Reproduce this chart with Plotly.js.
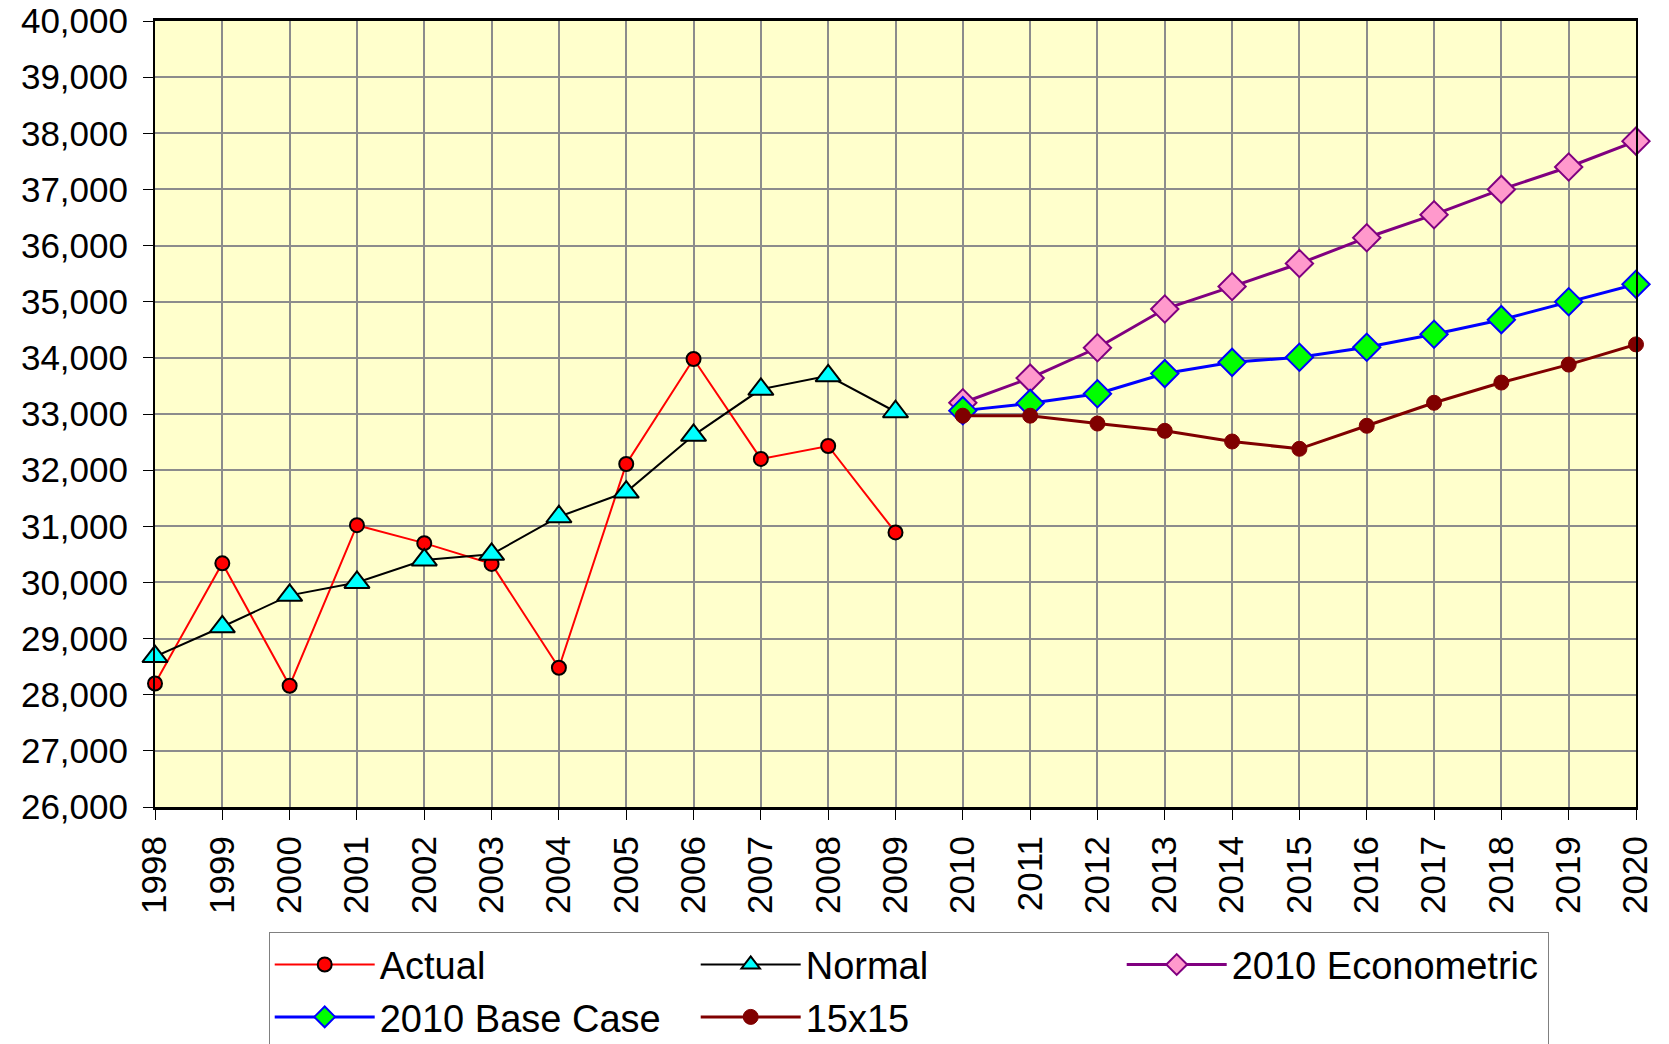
<!DOCTYPE html>
<html>
<head>
<meta charset="utf-8">
<script src="https://cdn.plot.ly/plotly-3.0.1.min.js"></script>
<style>
html,body{margin:0;padding:0;background:#fff;}
#chart{width:1669px;height:1044px;}
</style>
</head>
<body>
<div id="chart"></div>
<script>
const histYears = [1998,1999,2000,2001,2002,2003,2004,2005,2006,2007,2008,2009];
const fcstYears = [2010,2011,2012,2013,2014,2015,2016,2017,2018,2019,2020];

const actual = [28200,30340,28160,31020,30700,30330,28480,32110,33980,32200,32430,30890];
const normal = [28680,29210,29770,30000,30400,30500,31170,31610,32620,33440,33680,33040];
const econometric = [33200,33640,34180,34870,35270,35680,36140,36550,37000,37400,37860];
const baseCase = [33060,33190,33360,33720,33920,34010,34190,34420,34680,35000,35310];
const fifteen = [32970,32970,32830,32700,32510,32380,32790,33200,33560,33880,34240];

const seriesNames = ["Actual","Normal","2010 Econometric","2010 Base Case","15x15"];
const yTicks = [26000,27000,28000,29000,30000,31000,32000,33000,34000,35000,36000,37000,38000,39000,40000];

const traces = [
  {x: histYears, y: actual, name: seriesNames[0], type:'scatter', mode:'lines+markers',
   line:{color:'#FF0000', width:2},
   marker:{symbol:'circle', size:14, color:'#FF0000', line:{color:'#000000', width:2}}, cliponaxis:false},
  {x: histYears, y: normal, name: seriesNames[1], type:'scatter', mode:'lines+markers',
   line:{color:'#000000', width:2},
   marker:{symbol:'triangle-up', size:22, color:'#00FFFF', line:{color:'#000000', width:2}}, cliponaxis:false},
  {x: fcstYears, y: econometric, name: seriesNames[2], type:'scatter', mode:'lines+markers',
   line:{color:'#800080', width:3},
   marker:{symbol:'diamond', size:21, color:'#FF99CC', line:{color:'#800080', width:2}}, cliponaxis:false},
  {x: fcstYears, y: baseCase, name: seriesNames[3], type:'scatter', mode:'lines+markers',
   line:{color:'#0000FF', width:3},
   marker:{symbol:'diamond', size:21, color:'#00FF00', line:{color:'#0000FF', width:2}}, cliponaxis:false},
  {x: fcstYears, y: fifteen, name: seriesNames[4], type:'scatter', mode:'lines+markers',
   line:{color:'#800000', width:3},
   marker:{symbol:'circle', size:15, color:'#800000', line:{color:'#800000', width:1}}, cliponaxis:false}
];

const font = {family:'"Liberation Sans", Arial, sans-serif', size:35, color:'#000'};
const legendFont = {family:'"Liberation Sans", Arial, sans-serif', size:38, color:'#000'};

const layout = {
  width:1669, height:1044,
  paper_bgcolor:'#FFFFFF',
  plot_bgcolor:'#FFFFCC',
  font: font,
  margin:{l:155, r:33, t:21, b:237, pad:0},
  showlegend:true,
  xaxis:{
    range:[1998,2020], dtick:1, tick0:1998, tickangle:-90,
    showgrid:true, gridcolor:'#8C8C8C', gridwidth:2,
    showline:true, linecolor:'#000', linewidth:3, mirror:true,
    ticks:'outside', ticklen:10, tickcolor:'#000', tickwidth:1,
    ticklabelstandoff:2,
    zeroline:false, tickfont:font, automargin:false
  },
  yaxis:{
    range:[26000,40000], tickvals:yTicks, tickformat:',d',
    showgrid:true, gridcolor:'#8C8C8C', gridwidth:2,
    showline:true, linecolor:'#000', linewidth:2, mirror:true,
    ticks:'outside', ticklen:10, tickcolor:'#000', tickwidth:1,
    ticklabelstandoff:8,
    zeroline:false, tickfont:font, automargin:false
  },
  legend:{
    orientation:'h', xref:'container', yref:'container',
    x:0.161, xanchor:'left', y:0.107, yanchor:'top',
    bgcolor:'#FFFFFF', bordercolor:'#808080', borderwidth:1,
    font:legendFont, entrywidth:311, entrywidthmode:'pixels', traceorder:'normal',
    itemwidth:100
  }
};

Plotly.newPlot('chart', traces, layout, {displayModeBar:false, staticPlot:true});
</script>
</body>
</html>
